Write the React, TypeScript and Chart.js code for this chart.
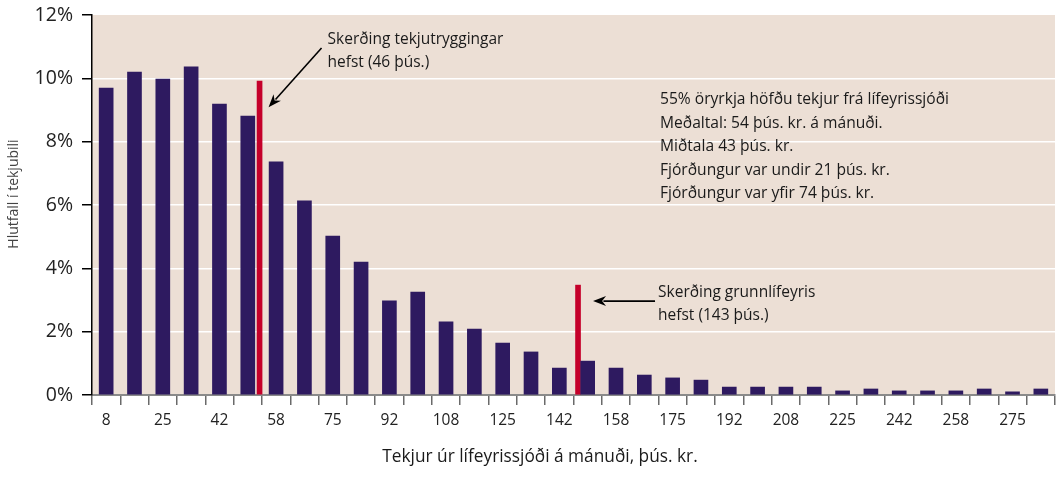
import React, { useEffect, useRef } from "react";
import { Chart, registerables } from "chart.js";

Chart.register(...registerables);

// Income bins (þús. kr. per month), one bar per bin
const categories = [
  "8", "17", "25", "33", "42", "50", "58", "67", "75", "83", "92", "100",
  "108", "117", "125", "133", "142", "150", "158", "167", "175", "183", "192", "200",
  "208", "217", "225", "233", "242", "250", "258", "267", "275", "283",
];
// Share of disability pensioners in each bin (%)
const shareInBin = [
  9.69, 10.2, 9.98, 10.36, 9.19, 8.81, 7.36, 6.13, 5.02, 4.2, 2.97, 3.25,
  2.31, 2.08, 1.64, 1.36, 0.85, 1.07, 0.85, 0.63, 0.54, 0.47, 0.25, 0.25,
  0.25, 0.25, 0.13, 0.19, 0.13, 0.13, 0.13, 0.19, 0.1, 0.19,
];
// Width of each income bin in þús. kr.
const binWidth = 25 / 3;
// Cut-off markers (position in þús. kr., height in %)
const cutoffPositions = [49.3, 143];
const cutoffHeights = [9.91, 3.47];

const yTicks = [0, 2, 4, 6, 8, 10, 12];

const cutoff1Text = ["Skerðing tekjutryggingar", "hefst (46 þús.)"];
const cutoff2Text = ["Skerðing grunnlífeyris", "hefst (143 þús.)"];
const summaryText = [
  "55% öryrkja höfðu tekjur frá lífeyrissjóði",
  "Meðaltal: 54 þús. kr. á mánuði.",
  "Miðtala 43 þús. kr.",
  "Fjórðungur var undir 21 þús. kr.",
  "Fjórðungur var yfir 74 þús. kr.",
];
const xTitle = "Tekjur úr lífeyrissjóði á mánuði, þús. kr.";
const yTitle = "Hlutfall í tekjubili";

const FONT = "'Open Sans', 'DejaVu Sans', sans-serif";
const PURPLE = "#2e1a60";
const RED = "#c5002a";
const PLOT_BG = "#ecdfd5";

// convert an amount in þús. kr. to a position on the category axis
const toIndexUnits = (amount: number) => amount / binWidth - 0.5;

function drawArrow(ctx: CanvasRenderingContext2D, x1: number, y1: number, x2: number, y2: number) {
  const ang = Math.atan2(y2 - y1, x2 - x1);
  const head = 13;
  const half = 5;
  ctx.save();
  ctx.strokeStyle = "#000";
  ctx.fillStyle = "#000";
  ctx.lineWidth = 1.6;
  ctx.beginPath();
  ctx.moveTo(x1, y1);
  ctx.lineTo(x2 - Math.cos(ang) * head * 0.8, y2 - Math.sin(ang) * head * 0.8);
  ctx.stroke();
  ctx.beginPath();
  ctx.moveTo(x2, y2);
  ctx.lineTo(
    x2 - Math.cos(ang) * head + Math.cos(ang + Math.PI / 2) * half,
    y2 - Math.sin(ang) * head + Math.sin(ang + Math.PI / 2) * half
  );
  ctx.lineTo(x2 - Math.cos(ang) * head * 0.7, y2 - Math.sin(ang) * head * 0.7);
  ctx.lineTo(
    x2 - Math.cos(ang) * head - Math.cos(ang + Math.PI / 2) * half,
    y2 - Math.sin(ang) * head - Math.sin(ang + Math.PI / 2) * half
  );
  ctx.closePath();
  ctx.fill();
  ctx.restore();
}

const backgroundPlugin = {
  id: "plotBackground",
  beforeDraw(chart: any) {
    const { ctx, chartArea } = chart;
    ctx.save();
    ctx.fillStyle = "#ffffff";
    ctx.fillRect(0, 0, chart.width, chart.height);
    ctx.fillStyle = PLOT_BG;
    ctx.fillRect(chartArea.left, chartArea.top, chartArea.right - chartArea.left, chartArea.bottom - chartArea.top);
    ctx.restore();
  },
};

const annotationPlugin = {
  id: "annotations",
  afterDraw(chart: any) {
    const { ctx } = chart;
    const x = chart.scales.x;
    const y = chart.scales.y;
    ctx.save();
    ctx.fillStyle = "#1a1a1a";
    ctx.textBaseline = "alphabetic";
    ctx.textAlign = "left";
    ctx.font = `15.5px ${FONT}`;

    // cut-off 1
    const c1x = x.getPixelForValue(toIndexUnits(cutoffPositions[0]));
    const c1y = y.getPixelForValue(cutoffHeights[0]);
    cutoff1Text.forEach((t, i) => ctx.fillText(t, c1x + 68, 44 + i * 23));
    drawArrow(ctx, c1x + 62, 48, c1x + 9, c1y + 26);

    // cut-off 2
    const c2x = x.getPixelForValue(toIndexUnits(cutoffPositions[1]));
    const c2y = y.getPixelForValue(cutoffHeights[1]);
    cutoff2Text.forEach((t, i) => ctx.fillText(t, c2x + 80, c2y + 12 + i * 22.5));
    drawArrow(ctx, c2x + 77, c2y + 16, c2x + 15, c2y + 16);

    // summary block
    ctx.font = `15.6px ${FONT}`;
    summaryText.forEach((t, i) => ctx.fillText(t, 660, 104 + i * 23.6));

    // x title
    ctx.textAlign = "center";
    ctx.font = `17.3px ${FONT}`;
    ctx.fillText(xTitle, 540, 462);

    // y title
    ctx.save();
    ctx.translate(14, 194);
    ctx.rotate(-Math.PI / 2);
    ctx.font = `14px ${FONT}`;
    ctx.fillStyle = "#444";
    ctx.textBaseline = "middle";
    ctx.fillText(yTitle, 0, 0);
    ctx.restore();

    ctx.restore();
  },
};

export default function App() {
  const ref = useRef<HTMLCanvasElement | null>(null);

  useEffect(() => {
    if (!ref.current) return;
    const chart = new Chart(ref.current, {
      type: "bar",
      data: {
        labels: categories,
        datasets: [
          {
            label: "Hlutfall",
            data: shareInBin,
            backgroundColor: PURPLE,
            barThickness: 14,
            grouped: false,
          },
          {
            label: "Skerðing",
            parsing: false,
            data: cutoffPositions.map((p, i) => ({ x: toIndexUnits(p), y: cutoffHeights[i] })) as any,
            backgroundColor: RED,
            barThickness: 5,
            grouped: false,
          },
        ],
      },
      plugins: [backgroundPlugin, annotationPlugin],
      options: {
        animation: false,
        responsive: true,
        maintainAspectRatio: false,
        layout: { padding: { top: 15, right: 7, left: 0, bottom: 0 } },
        plugins: {
          legend: { display: false },
          tooltip: { enabled: false },
        },
        scales: {
          x: {
            type: "category",
            offset: true,
            grid: {
              offset: true,
              drawOnChartArea: false,
              drawTicks: true,
              tickLength: 10,
              tickColor: "#6a6a6a",
              lineWidth: 1.5,
            },
            border: { display: true, color: "#8a8a8a", width: 2 },
            ticks: {
              autoSkip: false,
              maxRotation: 0,
              minRotation: 0,
              padding: 6,
              color: "#222",
              font: { family: FONT, size: 15.5 },
              callback: (_v: any, i: number) => (i % 2 === 0 ? categories[i] : ""),
            },
            afterFit: (scale: any) => {
              scale.height = 86;
              scale.paddingLeft = 0;
              scale.paddingRight = 0;
            },
          },
          y: {
            min: 0,
            max: 12,
            afterBuildTicks: (scale: any) => {
              scale.ticks = yTicks.map((v) => ({ value: v }));
            },
            grid: {
              color: (c: any) => (c.tick && (c.tick.value === 0 || c.tick.value === 12) ? "rgba(0,0,0,0)" : "#ffffff"),
              lineWidth: 1.5,
              tickColor: "#000",
              tickLength: 10,
              drawTicks: true,
            },
            border: { display: true, color: "#000", width: 1.5 },
            ticks: {
              padding: 9,
              color: "#222",
              font: { family: FONT, size: 19.5 },
              callback: (v: any) => `${v}%`,
            },
            afterFit: (scale: any) => {
              scale.width = 92;
              scale.paddingTop = 0;
              scale.paddingBottom = 0;
            },
          },
        },
      },
    });
    return () => chart.destroy();
  }, []);

  return (
    <div style={{ position: "fixed", left: 0, top: 0, width: 1062, height: 481, background: "#fff" }}>
      <canvas ref={ref} />
    </div>
  );
}
